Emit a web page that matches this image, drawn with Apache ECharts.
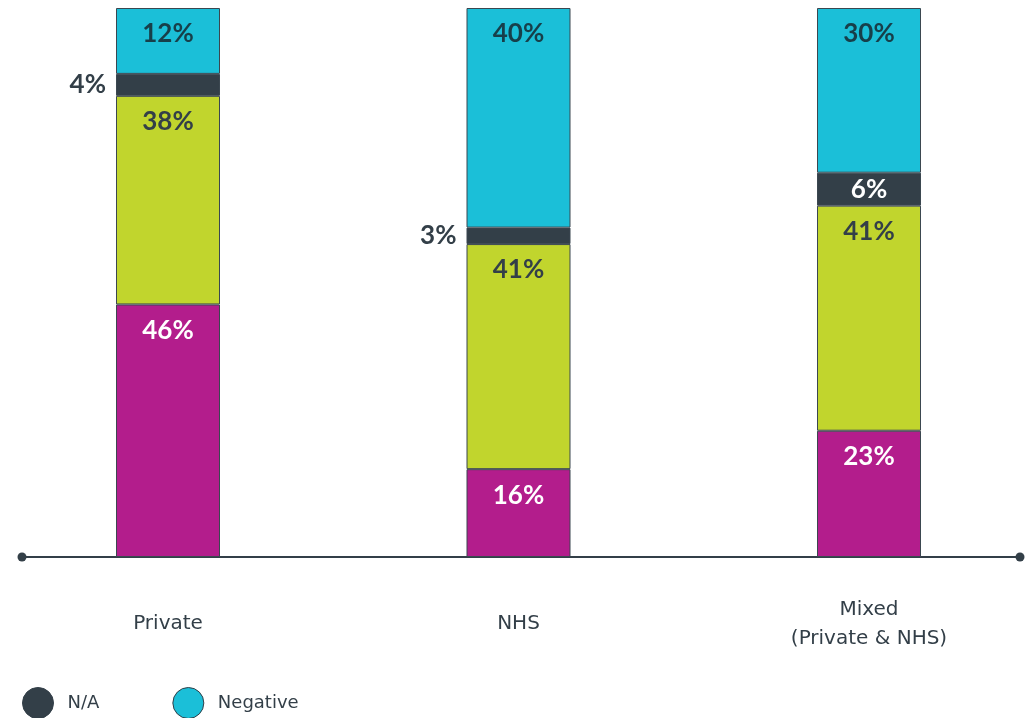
<!DOCTYPE html>
<html>
<head>
<meta charset="utf-8">
<script src="https://cdn.jsdelivr.net/npm/echarts@6/dist/echarts.min.js"></script>
<style>
html,body{margin:0;padding:0;background:#fff;}
#chart{width:1025px;height:718px;}
</style>
</head>
<body>
<div id="chart"></div>
<script>
const categories = ['Private', 'NHS', 'Mixed\n(Private & NHS)'];
const positive = [46, 16, 23];
const neutral = [38, 41, 41];
const na = [4, 3, 6];
const negative = [12, 40, 30];

const DARK = '#333f48';
const chart = echarts.init(document.getElementById('chart'));
const labelFont = 'Lato, "Open Sans", sans-serif';
const textFont = '"DejaVu Sans", sans-serif';

function baseLabel(color) {
  return {
    show: true,
    position: 'insideTop',
    distance: 13,
    color: color,
    fontFamily: labelFont,
    fontWeight: 'bold',
    fontSize: 26,
    formatter: p => p.value + '%'
  };
}

const itemStyleBase = c => ({ color: c, borderColor: '#3b4750', borderWidth: 1 });

const naData = na.map(v => v >= 5
  ? { value: v, label: { position: 'inside', color: '#ffffff' } }
  : { value: v, label: { position: 'left', distance: 10, color: DARK } });

chart.setOption({
  animation: false,
  backgroundColor: '#ffffff',
  grid: [
    { left: 168, right: 156, top: 8, bottom: 161 },
    { left: 22, right: 5, top: 8, bottom: 161 }
  ],
  legend: {
    data: ['N/A', 'Negative'],
    left: 22,
    top: 687,
    padding: 0,
    icon: 'circle',
    itemWidth: 31,
    itemHeight: 31,
    itemGap: 73,
    itemStyle: { borderColor: DARK, borderWidth: 1 },
    textStyle: { color: DARK, fontSize: 18, fontFamily: textFont, padding: [0, 0, 0, 9] }
  },
  xAxis: [
    {
      type: 'category', gridIndex: 0, data: categories, boundaryGap: false,
      axisLine: { show: false }, axisTick: { show: false },
      axisLabel: {
        color: DARK, fontSize: 20, fontFamily: textFont,
        lineHeight: 29, margin: 67, verticalAlign: 'middle'
      }
    },
    {
      type: 'value', gridIndex: 1, min: 0, max: 1,
      axisLine: { show: true, lineStyle: { color: DARK, width: 2 }, symbol: ['circle', 'circle'], symbolSize: [9, 9] },
      axisTick: { show: false }, axisLabel: { show: false }, splitLine: { show: false }
    }
  ],
  yAxis: [
    { type: 'value', gridIndex: 0, min: 0, max: 100, show: false },
    { type: 'value', gridIndex: 1, min: 0, max: 1, show: false }
  ],
  series: [
    { name: 'Positive', type: 'bar', stack: 's', barWidth: 104, clip: false, data: positive,
      itemStyle: itemStyleBase('#b31d8c'), label: baseLabel('#ffffff') },
    { name: 'Neutral', type: 'bar', stack: 's', barWidth: 104, clip: false, data: neutral,
      itemStyle: itemStyleBase('#c1d52d'), label: baseLabel(DARK) },
    { name: 'N/A', type: 'bar', stack: 's', barWidth: 104, clip: false, data: naData,
      itemStyle: itemStyleBase(DARK), label: baseLabel(DARK) },
    { name: 'Negative', type: 'bar', stack: 's', barWidth: 104, clip: false, data: negative,
      itemStyle: itemStyleBase('#1bbfd8'), label: baseLabel('#173f4a') }
  ]
});
</script>
</body>
</html>
